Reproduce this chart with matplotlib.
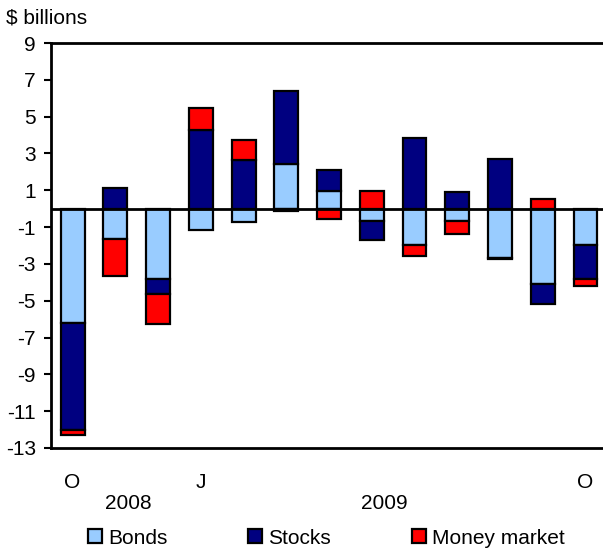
import matplotlib.pyplot as plt
import matplotlib.transforms as mtransforms
from matplotlib.patches import Patch
import numpy as np

plt.rcParams['font.family'] = ['Liberation Sans', 'DejaVu Sans']
plt.rcParams['axes.unicode_minus'] = False

months = ['O', 'N', 'D', 'J', 'F', 'M', 'A', 'M', 'J', 'J', 'A', 'S', 'O']
bonds = [-6.2, -1.65, -3.8, -1.15, -0.72, 2.4, 0.94, -0.69, -1.96, -0.69, -2.68, -4.1, -1.96]
stocks = [-5.8, 1.1, -0.85, 4.25, 2.65, 4.0, 1.16, -1.03, 3.85, 0.92, 2.7, -1.1, -1.86]
money = [-0.3, -2.0, -1.63, 1.2, 1.08, -0.1, -0.56, 0.94, -0.63, -0.67, -0.06, 0.53, -0.36]

shown_ticks = [0, 3, 12]
years = ['2008', '2009']
year_pos = [1.3, 7.3]

colors = ['#99ccff', '#000080', '#ff0000']
names = ['Bonds', 'Stocks', 'Money market']
legend_x = [88, 248, 412]  # left edge of each legend entry, px

fs = 15

fig = plt.figure(figsize=(6.03, 5.5), dpi=100)
ax = fig.add_axes([0.085, 0.1855, 0.915, 0.7363])

x = np.arange(len(months))
pos_base = np.zeros(len(months))
neg_base = np.zeros(len(months))
for vals, c in zip([bonds, stocks, money], colors):
    v = np.array(vals)
    base = np.where(v >= 0, pos_base, neg_base)
    ax.bar(x, v, bottom=base, width=0.56, color=c, edgecolor='black', linewidth=1.6, zorder=2)
    pos_base = pos_base + np.where(v > 0, v, 0)
    neg_base = neg_base + np.where(v < 0, v, 0)

ax.axhline(0, color='black', linewidth=2, zorder=3)
ax.set_xlim(-0.5, 12.41)
ax.set_ylim(-13, 9)
ax.set_yticks(np.arange(-13, 10, 2))
ax.tick_params(axis='y', direction='out', length=5, width=1.5, labelsize=fs, pad=6)
ax.set_xticks(shown_ticks)
ax.set_xticklabels([months[i] for i in shown_ticks])
ax.tick_params(axis='x', length=0, labelsize=fs, pad=18)
for s in ['left', 'top', 'bottom']:
    ax.spines[s].set_linewidth(2)
ax.spines['right'].set_visible(False)

trans = mtransforms.blended_transform_factory(ax.transData, ax.transAxes)
for yr, xp in zip(years, year_pos):
    ax.text(xp, -0.137, yr, transform=trans, ha='center', va='center', fontsize=fs)

fig.text(0.01, 0.967, '$ billions', fontsize=fs, ha='left', va='center')

for c, name, lx in zip(colors, names, legend_x):
    h = Patch(facecolor=c, edgecolor='black', linewidth=1.6)
    fig.legend([h], [name], loc='center left', bbox_to_anchor=(lx / 603, 1 - 538 / 550),
               frameon=False, fontsize=fs, handlelength=0.68, handleheight=0.68,
               handletextpad=0.3, borderpad=0, borderaxespad=0)

fig.savefig('out.png', dpi=100)
